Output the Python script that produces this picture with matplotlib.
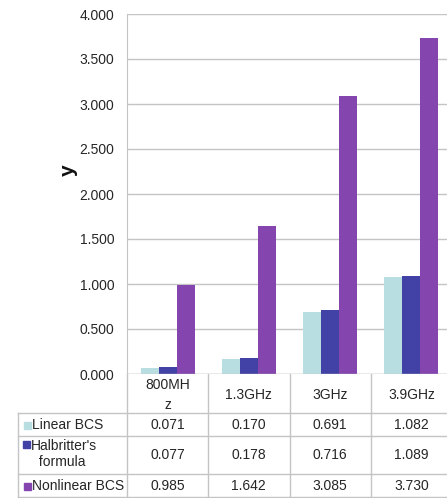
import matplotlib
matplotlib.use("Agg")
import matplotlib.pyplot as plt
import matplotlib.transforms as mtransforms
from matplotlib.patches import Rectangle
import numpy as np

plt.rcParams['font.family'] = ['Liberation Sans', 'DejaVu Sans']

categories = ['800MH\nz', '1.3GHz', '3GHz', '3.9GHz']
linear_bcs = [0.071, 0.170, 0.691, 1.082]
halbritter = [0.077, 0.178, 0.716, 1.089]
nonlinear_bcs = [0.985, 1.642, 3.085, 3.730]
series_names = ['Linear BCS', "Halbritter's\n  formula", 'Nonlinear BCS']
y_ticks = [0.0, 0.5, 1.0, 1.5, 2.0, 2.5, 3.0, 3.5, 4.0]

colors = ['#B8DEE2', '#4242A6', '#8445AE']
line_col = '#C4C4C4'
text_col = '#262626'
fs = 10

W, H = 447, 498
fig = plt.figure(figsize=(W / 100, H / 100), dpi=100)

# plot area runs a little past the right edge of the canvas
ax = fig.add_axes([127 / W, 1 - 374 / H, 325 / W, 360 / H])

x = np.arange(len(categories))
bw = 2 / 9
for k, vals in enumerate([linear_bcs, halbritter, nonlinear_bcs]):
    ax.bar(x + (k - 1) * bw, vals, width=bw, color=colors[k], zorder=3)

ax.set_xlim(-0.5, len(categories) - 0.5)
ax.set_ylim(0, 4)
ax.set_yticks(y_ticks)
ax.set_yticklabels([f'{v:.3f}' for v in y_ticks])
ax.tick_params(axis='y', length=0, pad=9, labelsize=fs, labelcolor=text_col)
ax.set_xticks([])
ax.grid(axis='y', color=line_col, linewidth=1, zorder=0)
for s in ['top', 'right', 'bottom']:
    ax.spines[s].set_visible(False)
ax.spines['left'].set_color(line_col)
ax.axhline(0, color=line_col, linewidth=1, zorder=4)

fig.text(68 / W, 1 - 170 / H, 'y', rotation=90, fontsize=15, fontweight='bold',
         ha='center', va='center', color='#111111')

# data table under the chart, laid out in pixel coordinates
tab = fig.add_axes([0, 0, 1, 1], zorder=-1)
tab.set_xlim(0, W)
tab.set_ylim(H, 0)
tab.axis('off')

bounds = [127 + i * 81.25 for i in range(len(categories) + 1)]
rows_y = [374, 413, 436, 474, 497]
for b in bounds:
    tab.plot([b, b], [374, 497], color=line_col, lw=1)
tab.plot([18, 18], [413, 497], color=line_col, lw=1)
for ry in rows_y[1:]:
    tab.plot([18, W + 10], [ry, ry], color=line_col, lw=1)

# x from the bar axes, y in pixels
blend = mtransforms.blended_transform_factory(ax.transData, tab.transData)
for i, c in enumerate(categories):
    tab.text(i, 395, c, transform=blend, ha='center', va='center',
             fontsize=fs, color=text_col, linespacing=1.5)

row_centers = [425, 455, 486]
for k, vals in enumerate([linear_bcs, halbritter, nonlinear_bcs]):
    for i, v in enumerate(vals):
        tab.text(i, row_centers[k], f'{v:.3f}', transform=blend, ha='center',
                 va='center', fontsize=fs, color=text_col)

label_y = [425, 454, 486]
for k, name in enumerate(series_names):
    sq_x = 23 if k == 1 else 24
    sq_y = 444 if k == 1 else label_y[k]
    tab.add_patch(Rectangle((sq_x, sq_y - 3.5), 7, 7, color=colors[k]))
    tab.text(sq_x + 8, label_y[k], name, ha='left', va='center',
             fontsize=fs, color=text_col, linespacing=1.25)

fig.savefig('out.png', dpi=100)
